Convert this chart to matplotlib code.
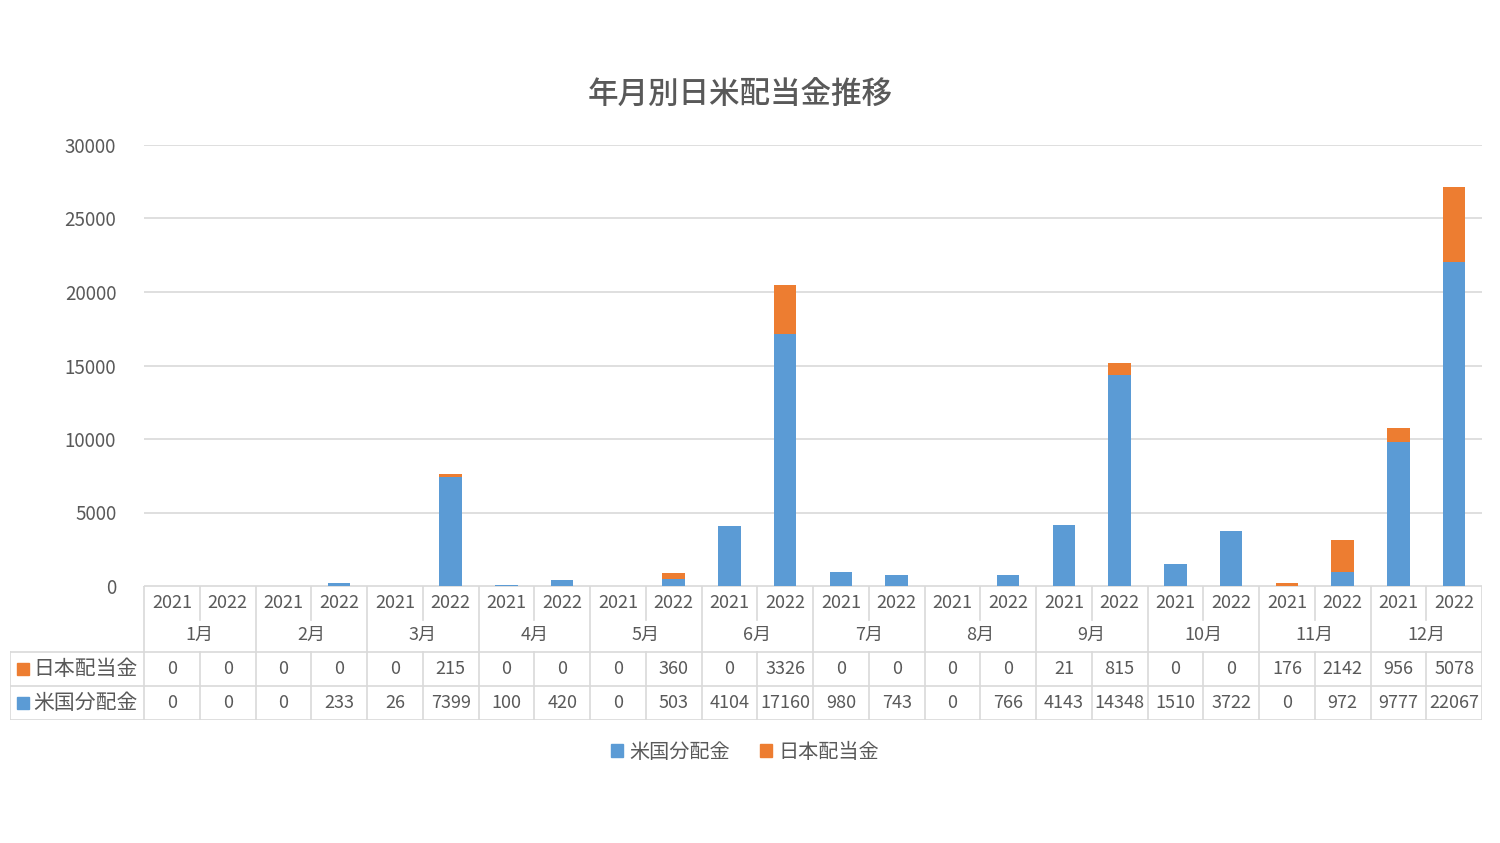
import numpy as np
import matplotlib
matplotlib.use("Agg")
import matplotlib.pyplot as plt
from matplotlib.patches import Patch

plt.rcParams['font.family'] = ['Noto Sans CJK JP', 'DejaVu Sans']

# データ
months = ['1月', '2月', '3月', '4月', '5月', '6月', '7月', '8月', '9月', '10月', '11月', '12月']
years = ['2021', '2022']
us_div = [0, 0, 0, 233, 26, 7399, 100, 420, 0, 503, 4104, 17160,
          980, 743, 0, 766, 4143, 14348, 1510, 3722, 0, 972, 9777, 22067]
jp_div = [0, 0, 0, 0, 0, 215, 0, 0, 0, 360, 0, 3326,
          0, 0, 0, 0, 21, 815, 0, 0, 176, 2142, 956, 5078]
series_names = ['米国分配金', '日本配当金']

BLUE = '#5B9BD5'
ORANGE = '#ED7D31'
GRAY = '#595959'
LINE = '#D9D9D9'

W, H = 1500, 843
fig = plt.figure(figsize=(W / 100, H / 100), dpi=100)

# 本体の軸 (ピクセル位置から)
ax_l, ax_r, ax_t, ax_b = 144, 1482, 145, 586
ax = fig.add_axes([ax_l / W, 1 - ax_b / H, (ax_r - ax_l) / W, (ax_b - ax_t) / H])
n = len(us_div)
x = np.arange(n)
ax.bar(x, us_div, width=0.4, color=BLUE, zorder=3)
ax.bar(x, jp_div, width=0.4, bottom=us_div, color=ORANGE, zorder=3)
ax.set_xlim(-0.5, n - 0.5)
ax.set_ylim(0, 30000)
ax.set_yticks(np.arange(0, 30001, 5000))
ax.yaxis.grid(True, color=LINE, linewidth=1.2, zorder=0)
ax.set_xticks([])
for s in ax.spines.values():
    s.set_visible(False)
ax.tick_params(axis='y', length=0, labelsize=13.5, labelcolor=GRAY, pad=20)

# データテーブル
col_w = (ax_r - ax_l) / n
tb_l, tb_b = 10, 720
tab = fig.add_axes([tb_l / W, 1 - tb_b / H, (ax_r - tb_l) / W, (tb_b - ax_b) / H])
x0 = -0.5 - (ax_l - tb_l) / col_w
tab.set_xlim(x0, n - 0.5)
tab.set_ylim(134, 0)
tab.axis('off')

lw = 1.2
# 横線
tab.plot([-0.5, n - 0.5], [0, 0], color=LINE, lw=lw)
for yy in [66, 100, 134]:
    tab.plot([x0, n - 0.5], [yy, yy], color=LINE, lw=lw)
# 縦線
tab.plot([x0, x0], [66, 134], color=LINE, lw=lw)
for k in range(n + 1):
    bx = k - 0.5
    if k % 2 == 0:
        tab.plot([bx, bx], [0, 134], color=LINE, lw=lw)
    else:
        tab.plot([bx, bx], [0, 34], color=LINE, lw=lw)
        tab.plot([bx, bx], [66, 134], color=LINE, lw=lw)

fs = 13
for i in range(n):
    tab.text(i, 17, years[i % 2], ha='center', va='center', fontsize=fs, color=GRAY)
    tab.text(i, 83, str(jp_div[i]), ha='center', va='center', fontsize=fs, color=GRAY)
    tab.text(i, 117, str(us_div[i]), ha='center', va='center', fontsize=fs, color=GRAY)
for m, name in enumerate(months):
    tab.text(2 * m + 0.5, 49, name, ha='center', va='center', fontsize=fs, color=GRAY)

sq_x = -0.5 - (ax_l - 23) / col_w
lb_x = -0.5 - (ax_l - 33) / col_w
for yy, name, c in [(83, series_names[1], ORANGE), (117, series_names[0], BLUE)]:
    tab.plot([sq_x], [yy], marker='s', markersize=8, color=c, linestyle='none')
    tab.text(lb_x, yy, name, ha='left', va='center', fontsize=15, color=GRAY)

# タイトル
fig.text(740 / W, 1 - 95 / H, '年月別日米配当金推移', ha='center', va='center',
         fontsize=22, color=GRAY, fontweight='medium')

# 凡例
handles = [Patch(color=BLUE), Patch(color=ORANGE)]
fig.legend(handles, series_names, loc='center', bbox_to_anchor=(745 / W, 1 - 752 / H),
           ncol=2, frameon=False, fontsize=14.5, handlelength=0.6, handleheight=0.6,
           handletextpad=0.3, columnspacing=1.5, labelcolor=GRAY)

fig.savefig('out.png', dpi=100, facecolor='white')
